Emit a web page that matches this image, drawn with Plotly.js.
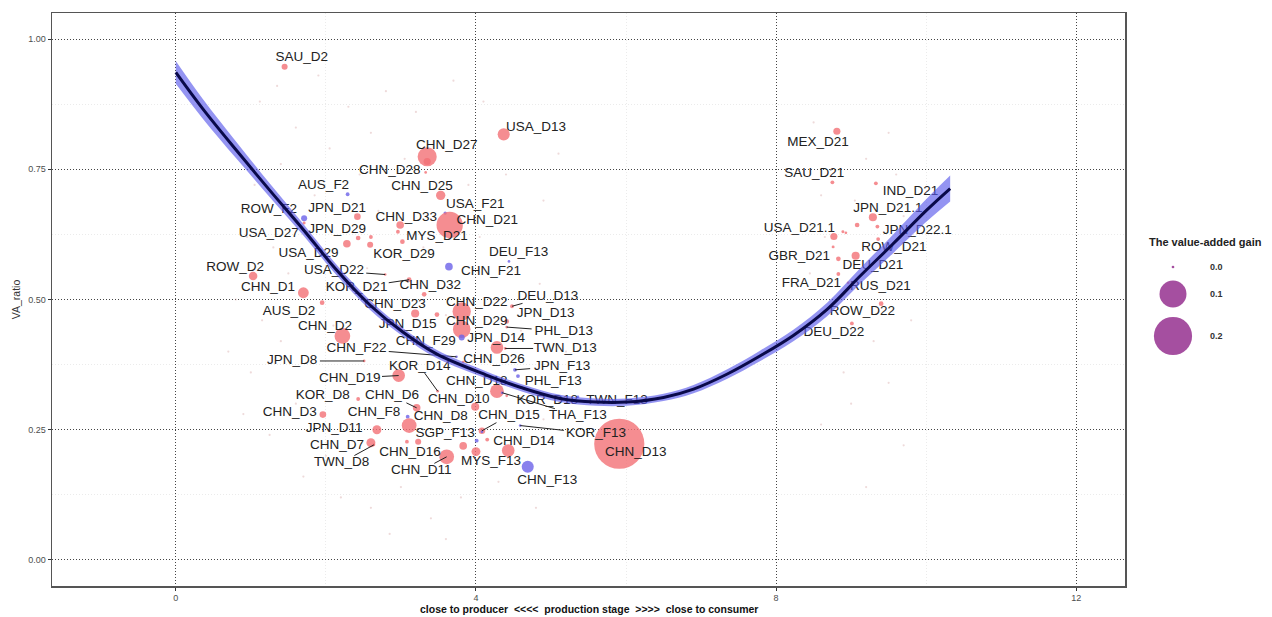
<!DOCTYPE html>
<html>
<head>
<meta charset="utf-8">
<script src="https://cdn.plot.ly/plotly-3.0.1.min.js"></script>
<style>html,body{margin:0;padding:0;background:#fff;}#chart{width:1272px;height:617px;}</style>
</head>
<body>
<div id="chart"></div>
<script>
// ---------- data ----------
const names = ["SAU_D2","USA_D13","CHN_D27","CHN_D28","AUS_F2","CHN_D25","ROW_F2","JPN_D21","USA_F21","CHN_D33",
 "CHN_D21","USA_D27","JPN_D29","MYS_D21","USA_D29","KOR_D29","DEU_F13","CHN_F21","ROW_D2","USA_D22",
 "CHN_D1","KOR_D21","CHN_D32","AUS_D2","CHN_D23","JPN_D15","CHN_D2","CHN_D22","DEU_D13","CHN_D29",
 "JPN_D13","PHL_D13","JPN_D14","TWN_D13","CHN_F29","CHN_F22","CHN_D26","JPN_D8","KOR_D14","CHN_D19",
 "JPN_F13","PHL_F13","CHN_D18","CHN_D10","KOR_D18","TWN_F13","THA_F13","CHN_D6","KOR_D8","CHN_D3",
 "CHN_F8","CHN_D8","CHN_D15","JPN_D11","SGP_F13","KOR_F13","CHN_D14","CHN_D13","CHN_D7","TWN_D8",
 "CHN_D16","CHN_D11","MYS_F13","CHN_F13","MEX_D21","SAU_D21","IND_D21","JPN_D21.1","USA_D21.1","JPN_D22.1",
 "ROW_D21","GBR_D21","DEU_D21","FRA_D21","RUS_D21","ROW_D22","DEU_D22",
 "","","","","","","","","","",""];
const stage = [1.45,4.37,3.35,3.33,2.29,3.53,1.71,2.42,3.59,2.99,
 3.65,1.71,2.43,3.02,2.28,2.59,4.44,3.64,1.03,2.79,
 1.70,3.11,3.31,1.95,3.19,3.48,2.22,3.81,4.48,3.81,
 4.41,4.41,4.28,4.39,3.81,3.74,3.83,2.51,3.49,2.97,
 4.52,4.56,4.28,3.99,4.41,5.36,4.35,3.21,2.43,1.96,
 3.09,3.11,4.08,2.68,4.01,4.59,4.43,5.91,2.60,2.64,
 3.23,3.61,4.00,4.69,8.81,8.75,9.33,9.29,8.77,9.35,
 9.36,8.83,9.06,8.83,8.96,9.40,9.01,
 3.35,2.60,9.08,8.89,8.76,4.15,3.83,3.08,2.96,8.93,4.08];
const vaRatio = [0.947,0.817,0.774,0.744,0.702,0.700,0.656,0.659,0.666,0.643,
 0.643,0.647,0.618,0.611,0.607,0.605,0.573,0.563,0.545,0.548,
 0.513,0.538,0.510,0.494,0.473,0.471,0.430,0.477,0.487,0.443,
 0.458,0.447,0.408,0.406,0.427,0.390,0.380,0.382,0.324,0.354,
 0.365,0.353,0.324,0.294,0.315,0.313,0.321,0.292,0.309,0.279,
 0.275,0.258,0.248,0.250,0.229,0.258,0.210,0.223,0.225,0.221,
 0.227,0.198,0.208,0.179,0.823,0.725,0.723,0.658,0.621,0.640,
 0.616,0.578,0.584,0.549,0.532,0.492,0.454,
 0.765,0.620,0.643,0.630,0.601,0.231,0.219,0.227,0.630,0.628,0.246];
const gain = [0.005,0.020,0.050,0.001,0.002,0.012,0.005,0.006,0.0015,0.008,
 0.095,0.0012,0.003,0.003,0.008,0.005,0.001,0.008,0.010,0.001,
 0.016,0.003,0.003,0.003,0.009,0.003,0.034,0.046,0.002,0.042,
 0.003,0.001,0.022,0.001,0.005,0.001,0.001,0.001,0.001,0.022,
 0.002,0.002,0.026,0.009,0.001,0.001,0.001,0.008,0.002,0.006,
 0.002,0.030,0.006,0.011,0.002,0.001,0.022,0.345,0.011,0.001,
 0.005,0.030,0.011,0.020,0.007,0.002,0.002,0.009,0.007,0.002,
 0.002,0.003,0.009,0.002,0.001,0.003,0.002,
 0.007,0.002,0.003,0.0012,0.0012,0.002,0.008,0.002,0.002,0.001,0.001];
// 1 = red marks, 2 = blue marks
const grp = [1,1,1,1,2,1,2,1,2,1,
 1,1,1,1,1,1,2,2,1,1,
 1,1,1,1,1,1,1,1,1,1,
 1,1,1,1,2,2,1,1,1,1,
 2,2,1,1,1,2,2,1,1,1,
 2,1,1,1,2,2,1,1,1,1,
 1,1,1,2,1,1,1,1,1,1,
 1,1,1,1,1,1,1,
 1,1,1,1,1,1,1,1,1,1,2];
// label placement (data units) and whether a leader segment is drawn
const labX = [1.68,4.80,3.61,2.85,1.97,3.28,1.24,2.15,3.99,3.07,
 4.15,1.24,2.15,3.48,1.77,3.04,4.57,4.20,0.79,2.11,
 1.23,2.41,3.39,1.51,2.92,3.09,1.99,4.01,4.96,4.01,
 4.93,5.17,4.27,5.19,3.33,2.41,4.24,1.55,3.25,2.32,
 5.15,5.03,4.01,3.77,4.95,5.88,5.36,2.88,1.96,1.52,
 2.64,3.53,4.44,2.11,3.59,5.60,4.64,6.13,2.15,2.21,
 3.12,3.27,4.20,4.95,8.56,8.51,9.79,9.49,8.31,9.88,
 9.57,8.31,9.29,8.47,9.39,9.15,8.77];
const labY = [0.964,0.830,0.796,0.748,0.718,0.716,0.672,0.674,0.683,0.658,
 0.651,0.626,0.634,0.620,0.588,0.586,0.590,0.553,0.561,0.555,
 0.523,0.523,0.527,0.477,0.490,0.452,0.448,0.494,0.506,0.458,
 0.473,0.439,0.424,0.406,0.420,0.405,0.385,0.382,0.372,0.349,
 0.372,0.342,0.342,0.307,0.305,0.305,0.277,0.315,0.315,0.282,
 0.282,0.275,0.277,0.252,0.242,0.242,0.227,0.206,0.219,0.187,
 0.206,0.172,0.189,0.153,0.802,0.742,0.708,0.674,0.636,0.632,
 0.599,0.582,0.565,0.531,0.525,0.477,0.437];
const seg = [0,0,0,0,0,0,0,0,0,0,
 0,0,0,0,0,0,0,0,0,1,
 0,1,0,0,0,0,0,0,1,0,
 0,1,0,1,0,1,0,1,1,1,
 1,0,0,0,0,0,1,1,0,0,
 0,0,1,0,0,1,0,0,0,1,
 0,1,0,0,0,0,0,0,0,0,
 0,0,0,0,0,0,0];
// faint background observations
const faintPoints = [[1.12,0.88],[1.35,0.91],[1.9,0.93],[2.3,0.87],[2.8,0.9],[3.2,0.86],[3.7,0.92],[4.1,0.88],
 [1.6,0.83],[2.05,0.79],[2.6,0.82],[3.05,0.77],[3.9,0.8],[4.6,0.84],[5.1,0.78],[1.05,0.72],[1.4,0.76],
 [1.85,0.7],[2.45,0.74],[2.95,0.71],[3.9,0.72],[4.4,0.74],[4.9,0.69],[0.95,0.62],[1.3,0.6],[1.95,0.64],
 [2.7,0.67],[3.3,0.6],[4.05,0.62],[4.7,0.6],[0.8,0.5],[1.15,0.46],[1.5,0.55],[2.55,0.56],[3.55,0.52],
 [4.25,0.5],[4.85,0.53],[0.7,0.4],[1.0,0.36],[1.4,0.42],[1.8,0.38],[2.1,0.45],[3.6,0.47],[4.6,0.44],
 [5.2,0.4],[0.9,0.28],[1.25,0.24],[1.6,0.3],[2.0,0.2],[2.3,0.32],[3.9,0.34],[4.9,0.27],[1.7,0.16],
 [2.2,0.12],[2.6,0.1],[3.0,0.14],[3.4,0.08],[3.8,0.12],[4.3,0.15],[4.8,0.1],[2.85,0.05],[3.6,0.04],
 [8.5,0.84],[8.9,0.8],[9.2,0.77],[9.5,0.82],[8.6,0.7],[9.05,0.69],[9.6,0.74],[8.65,0.62],[9.2,0.6],
 [9.7,0.66],[8.45,0.55],[9.0,0.5],[9.55,0.52],[8.7,0.43],[9.3,0.42],[9.8,0.46],[8.9,0.36],[9.5,0.34],
 [9.0,0.3],[8.6,0.26],[9.7,0.22],[9.2,0.14]];
// smooth fit with its standard-error band
const fitX  = [0,0.36,0.81,1.25,1.70,2.14,2.59,3.03,3.48,4.14,4.60,5.12,5.60,6.01,6.50,6.90,7.35,7.79,8.23,8.68,9.12,9.56,10.01,10.32];
const fitY  = [0.936,0.866,0.786,0.710,0.634,0.557,0.489,0.437,0.395,0.355,0.331,0.310,0.303,0.303,0.312,0.328,0.357,0.392,0.431,0.481,0.545,0.607,0.672,0.713];
const fitSE = [0.022,0.019,0.016,0.013,0.011,0.010,0.009,0.008,0.008,0.007,0.007,0.007,0.007,0.007,0.007,0.008,0.009,0.010,0.011,0.013,0.015,0.018,0.022,0.025];
// size key
const legendVals = [0.001, 0.1, 0.2];
const legendText = ["0.0","0.1","0.2"];
const xTicks = [0,4,8,12];
const yTicks = [0,0.25,0.5,0.75,1.0];

// ---------- build ----------
const RED = 'rgb(242,112,118)', BLUE = 'rgb(108,98,232)', PURPLE = 'rgb(160,70,155)';
const SIZEREF = 0.1 / (2 * 13.5 * 13.5);
const FONT = 'Liberation Sans, Arial, sans-serif';
const PX_X = 1073 / 14.3, PX_Y = 573 / 1.1;
const KEY_Y = [319, 292, 250];

const segX = [], segY = [];
names.forEach((n, i) => {
  if (!n || !seg[i]) return;
  const dx = (stage[i] - labX[i]) * PX_X, dy = (vaRatio[i] - labY[i]) * PX_Y;
  const hw = n.length * 4.3 + 2, hh = 7;
  const t = Math.min(dx ? hw / Math.abs(dx) : Infinity, dy ? hh / Math.abs(dy) : Infinity);
  if (t >= 1) return;
  segX.push(labX[i] + t * (stage[i] - labX[i]), stage[i], null);
  segY.push(labY[i] + t * (vaRatio[i] - labY[i]), vaRatio[i], null);
});

const lab = names.map((n, i) => i).filter(i => names[i] && i < labX.length);

const traces = [
  {x: faintPoints.map(p => p[0]), y: faintPoints.map(p => p[1]), mode: 'markers', hoverinfo: 'skip',
   marker: {size: 2.2, color: 'rgba(205,150,150,0.35)'}},
  {x: stage, y: vaRatio, mode: 'markers', hoverinfo: 'skip',
   marker: {size: gain, sizemode: 'area', sizeref: SIZEREF, sizemin: 1,
            color: grp.map(g => g === 2 ? BLUE : RED), opacity: 0.8, line: {width: 0}}},
  {x: segX, y: segY, mode: 'lines', hoverinfo: 'skip', line: {color: '#222', width: 1}},
  {x: lab.map(i => labX[i]), y: lab.map(i => labY[i]), text: lab.map(i => names[i]), mode: 'text',
   textposition: 'middle center', hoverinfo: 'skip', cliponaxis: false,
   textfont: {family: FONT, size: 13.5, color: '#222'}},
  {x: fitX, y: fitY.map((v, i) => v + fitSE[i]), mode: 'lines', hoverinfo: 'skip',
   line: {width: 0, shape: 'spline'}},
  {x: fitX, y: fitY.map((v, i) => v - fitSE[i]), mode: 'lines', hoverinfo: 'skip', fill: 'tonexty',
   fillcolor: 'rgba(90,90,235,0.65)', line: {width: 0, shape: 'spline'}},
  {x: fitX, y: fitY, mode: 'lines', hoverinfo: 'skip', line: {color: '#0a0a4a', width: 3, shape: 'spline'}},
  {x: [33,33,33], y: KEY_Y, xaxis: 'x2', yaxis: 'y2', mode: 'markers', hoverinfo: 'skip',
   marker: {size: legendVals, sizemode: 'area', sizeref: SIZEREF, sizemin: 1, color: PURPLE, opacity: 0.95, line: {width: 0}}}
];

const annotations = [
  {xref: 'paper', yref: 'paper', x: 0.4398, y: -0.040, yanchor: 'middle', xanchor: 'center', showarrow: false,
   text: 'close to producer\u00a0\u00a0&lt;&lt;&lt;&lt;\u00a0\u00a0production stage\u00a0\u00a0&gt;&gt;&gt;&gt;\u00a0\u00a0close to consumer',
   font: {family: FONT, size: 10.5, color: '#111', weight: 'bold'}},
  {xref: 'x2', yref: 'y2', x: 7, y: 344, xanchor: 'left', yanchor: 'middle', showarrow: false,
   text: 'The value-added gain', font: {family: FONT, size: 11, color: '#222', weight: 'bold'}}
].concat(legendText.map((t, i) => ({xref: 'x2', yref: 'y2', x: 68, y: KEY_Y[i], xanchor: 'left',
   yanchor: 'middle', showarrow: false, text: t, font: {family: FONT, size: 9, color: '#333', weight: 'bold'}})));

const axisCommon = {
  showgrid: true, gridcolor: '#444', gridwidth: 1, griddash: '1px,2px', zeroline: false,
  showline: true, linecolor: '#555', linewidth: 1.5, mirror: true,
  ticks: 'outside', ticklen: 3, tickcolor: '#333', tickwidth: 1,
  tickfont: {family: FONT, size: 9, color: '#4d4d4d'}, fixedrange: true
};

const layout = {
  width: 1272, height: 617, margin: {l: 52, r: 0, t: 13, b: 31, pad: 0},
  paper_bgcolor: '#fff', plot_bgcolor: '#fff', showlegend: false, hovermode: false,
  font: {family: FONT},
  xaxis: Object.assign({}, axisCommon, {domain: [0, 0.87951], range: [-1.65, 12.65],
    tickmode: 'array', tickvals: xTicks, ticktext: xTicks.map(String),
    minor: {tick0: 0, dtick: 2, showgrid: true, gridcolor: '#ebebeb', gridwidth: 1, ticks: ''}}),
  yaxis: Object.assign({}, axisCommon, {domain: [0, 1], range: [-0.05, 1.05],
    tickmode: 'array', tickvals: yTicks, ticktext: yTicks.map(v => v.toFixed(2)),
    minor: {tick0: 0, dtick: 0.125, showgrid: true, gridcolor: '#ebebeb', gridwidth: 1, ticks: ''},
    title: {text: 'VA_ratio', font: {family: FONT, size: 10.5, color: '#333'}, standoff: 5}}),
  xaxis2: {domain: [0.8918, 1], range: [0, 132], visible: false, anchor: 'y2', fixedrange: true},
  yaxis2: {domain: [0, 1], range: [0, 573], visible: false, anchor: 'x2', fixedrange: true},
  annotations: annotations
};

Plotly.newPlot('chart', traces, layout, {displayModeBar: false, staticPlot: true});
</script>
</body>
</html>
